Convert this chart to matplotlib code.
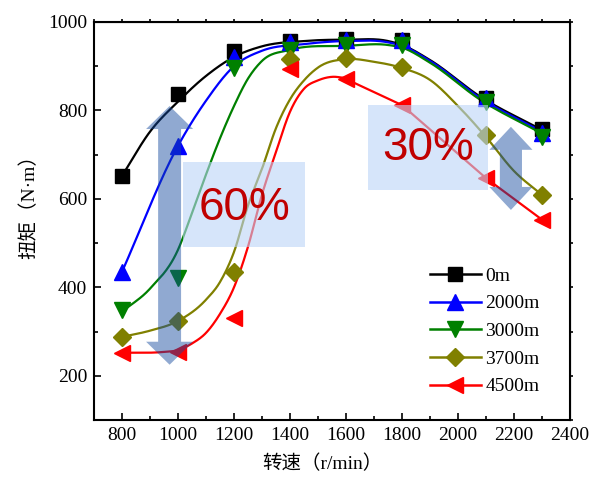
import numpy as np
import matplotlib
matplotlib.use('Agg')
from matplotlib import pyplot as plt
from matplotlib import font_manager
from matplotlib.lines import Line2D
from matplotlib.patches import Polygon, Rectangle

# 转速 (r/min)
speed = [800, 1000, 1200, 1400, 1600, 1800, 2100, 2300]

# 各海拔下的扭矩测点
torque_0 = [652, 837, 934, 957, 962, 959, 828, 758]
torque_2000 = [435, 720, 921, 955, 959, 959, 828, 750]
torque_3000 = [348, 421, 896, 937, 948, 948, 819, 741]
torque_3700 = [288, 324, 435, 916, 919, 898, 745, 609]
torque_4500 = [252, 253, 331, 894, 871, 812, 647, 553]

# 拟合曲线节点
fit_0_x = [800, 900, 1000, 1100, 1200, 1300, 1450, 1600, 1750, 1800, 1900, 2080, 2300]
fit_0_y = [652, 752, 820, 878, 921, 945, 957, 960, 957, 948, 914, 831, 756]
fit_2000_x = [800, 1000, 1100, 1200, 1300, 1450, 1600, 1750, 1800, 1900, 2080, 2300]
fit_2000_y = [435, 720, 822, 900, 935, 950, 957, 954, 946, 912, 828, 752]
fit_3000_x = [800, 900, 1000, 1050, 1100, 1150, 1200, 1250, 1300, 1400, 1600, 1750, 1800, 1900, 2080, 2300]
fit_3000_y = [345, 397, 485, 568, 655, 737, 810, 872, 912, 937, 946, 948, 942, 908, 824, 748]
fit_3700_x = [800, 900, 1000, 1100, 1150, 1200, 1250, 1300, 1350, 1400, 1450, 1500, 1600, 1700, 1800,
              1900, 2000, 2100, 2200, 2300]
fit_3700_y = [288, 302, 324, 372, 412, 480, 585, 668, 760, 825, 868, 897, 916, 910, 896,
              869, 810, 740, 663, 609]
fit_4500_x = [800, 950, 1000, 1050, 1100, 1150, 1200, 1250, 1300, 1350, 1400, 1450, 1500, 1550, 1600]
fit_4500_y = [252, 254, 258, 273, 297, 340, 400, 492, 610, 706, 797, 849, 868, 876, 873]

labels = ['0m', '2000m', '3000m', '3700m', '4500m']
colors = ['black', 'blue', 'green', '#808000', 'red']
markers = ['s', '^', 'v', 'D', '<']
msizes = [9.5, 11.5, 11.5, 8.7, 11.5]

plt.rcParams['font.family'] = ['Liberation Serif', 'Noto Sans CJK SC', 'DejaVu Sans']


def smooth(xs, ys, n=400):
    # 三次 Hermite 曲线（三点斜率），只用来画平滑线
    x = np.asarray(xs, float)
    y = np.asarray(ys, float)
    h = np.diff(x)
    delta = np.diff(y) / h
    d = np.zeros_like(y)
    d[1:-1] = (delta[:-1] * h[1:] + delta[1:] * h[:-1]) / (h[:-1] + h[1:])
    d[0] = delta[0]
    d[-1] = delta[-1]
    xx = np.linspace(x[0], x[-1], n)
    idx = np.clip(np.searchsorted(x, xx) - 1, 0, len(x) - 2)
    t = (xx - x[idx]) / h[idx]
    h00 = 2 * t ** 3 - 3 * t ** 2 + 1
    h10 = t ** 3 - 2 * t ** 2 + t
    h01 = -2 * t ** 3 + 3 * t ** 2
    h11 = t ** 3 - t ** 2
    yy = h00 * y[idx] + h10 * h[idx] * d[idx] + h01 * y[idx + 1] + h11 * h[idx] * d[idx + 1]
    return xx, yy


def double_arrow(ax, xc, y0, y1, shaft_w, head_w, head_len):
    pts = [(xc, y1), (xc + head_w / 2, y1 - head_len), (xc + shaft_w / 2, y1 - head_len),
           (xc + shaft_w / 2, y0 + head_len), (xc + head_w / 2, y0 + head_len), (xc, y0),
           (xc - head_w / 2, y0 + head_len), (xc - shaft_w / 2, y0 + head_len),
           (xc - shaft_w / 2, y1 - head_len), (xc - head_w / 2, y1 - head_len)]
    ax.add_patch(Polygon(pts, closed=True, facecolor='#144a9e', alpha=0.47, edgecolor='none', zorder=5))


fig = plt.figure(figsize=(5.91, 4.78), dpi=100)
ax = fig.add_axes([94 / 591, 1 - 420 / 478, 476 / 591, 398 / 478])

fits = [(fit_0_x, fit_0_y), (fit_2000_x, fit_2000_y), (fit_3000_x, fit_3000_y),
        (fit_3700_x, fit_3700_y), (fit_4500_x, fit_4500_y)]
data = [torque_0, torque_2000, torque_3000, torque_3700, torque_4500]

for (fx, fy), c in zip(fits, colors):
    sx, sy = smooth(fx, fy)
    ax.plot(sx, sy, color=c, lw=1.6, zorder=2)
# 4500m 后段为折线
ax.plot(speed[4:], torque_4500[4:], color='red', lw=1.6, zorder=2)

for d, c, m, s in zip(data, colors, markers, msizes):
    ax.plot(speed, d, ls='none', marker=m, ms=s, color=c, zorder=3)

# 标注
double_arrow(ax, 970, 225, 810, 82, 168, 52)
double_arrow(ax, 2189, 575, 763, 79, 154, 52)
ax.add_patch(Rectangle((1018, 492), 436, 192, facecolor='#bbd5f7', alpha=0.6, edgecolor='none', zorder=6))
ax.add_patch(Rectangle((1679, 620), 428, 192, facecolor='#bbd5f7', alpha=0.6, edgecolor='none', zorder=6))
names = {f.name for f in font_manager.fontManager.ttflist}
if 'Liberation Sans Narrow' in names:
    txt_font, txt_size = ['Liberation Sans Narrow', 'DejaVu Sans'], 40
else:
    txt_font, txt_size = ['Liberation Sans', 'DejaVu Sans'], 33
ax.text(1237, 580, '60%', fontsize=txt_size, color='#c00000', ha='center', va='center', family=txt_font, zorder=7)
ax.text(1893, 716, '30%', fontsize=txt_size, color='#c00000', ha='center', va='center', family=txt_font, zorder=7)

ax.set_xlim(700, 2400)
ax.set_ylim(100, 1000)
ax.set_xticks(np.arange(800, 2401, 200))
ax.set_xticks(np.arange(700, 2401, 100), minor=True)
ax.set_yticks(np.arange(200, 1001, 200))
ax.set_yticks(np.arange(100, 1001, 100), minor=True)
ax.tick_params(which='major', direction='in', length=5, width=1.2, labelsize=14)
ax.tick_params(which='minor', direction='in', length=3, width=1.2)
ax.tick_params(axis='x', which='major', pad=5)
ax.tick_params(axis='y', which='major', pad=5)
for sp in ax.spines.values():
    sp.set_linewidth(1.5)

top = ax.secondary_xaxis('top')
top.set_xticks(np.arange(700, 2401, 100))
top.tick_params(direction='out', length=2, width=1.2, labeltop=False)
right = ax.secondary_yaxis('right')
right.set_yticks(np.arange(100, 1001, 100))
right.tick_params(direction='out', length=2, width=1.2, labelright=False)

ax.set_xlabel('转速（r/min）', fontsize=14)
ax.set_ylabel('扭矩（N·m）', fontsize=14)
ax.xaxis.set_label_coords((322 - 94) / 476, (420 - 455) / 398)
ax.yaxis.set_label_coords((38 - 94) / 476, (420 - 202) / 398)

handles = [Line2D([], [], color=c, marker=m, ms=s, lw=1.8) for c, m, s in zip(colors, markers, msizes)]
ax.legend(handles, labels, loc='upper left', bbox_to_anchor=((430 - 94) / 476, (420 - 267) / 398),
          frameon=False, fontsize=14, handlelength=2.6, handletextpad=0.25, labelspacing=0.52,
          borderpad=0, borderaxespad=0)

fig.savefig('out.png', dpi=100)
